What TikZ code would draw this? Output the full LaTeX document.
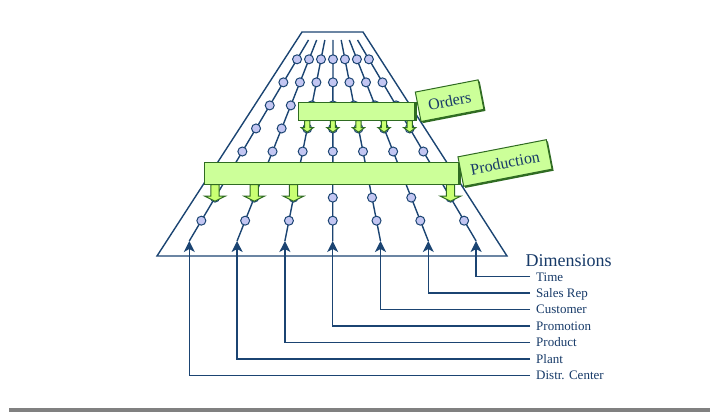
\documentclass[tikz,border=0pt]{standalone}
\usepackage{fontspec}
\setmainfont{Liberation Serif}
\usetikzlibrary{arrows.meta,calc,shadows}

\definecolor{navy}{HTML}{1B4472}
\definecolor{txtblue}{HTML}{173A68}
\definecolor{barfill}{HTML}{CCFF99}
\definecolor{bardraw}{HTML}{2F6B22}
\definecolor{dotfill}{HTML}{C3C6F2}
\definecolor{rulegray}{HTML}{808080}

\begin{document}
\begin{tikzpicture}[x=1pt,y=-1pt,
  dimline/.style={draw=navy,line width=1.4pt},
  dot/.style={circle,draw=navy,fill=dotfill,line width=1pt,minimum size=9pt,inner sep=0pt},
  fact/.style={draw=bardraw,fill=barfill,line width=1.2pt,inner sep=0pt,anchor=north west},
  tag/.style={draw=bardraw,fill=barfill,line width=1pt,rotate=11,inner sep=0pt,
    font=\fontsize{16}{16}\selectfont,text=txtblue,
    drop shadow={shadow xshift=1.6pt,shadow yshift=-1.6pt,fill=bardraw,opacity=1}},
  dimlabel/.style={anchor=west,inner xsep=6pt,inner ysep=0pt,text height=8.6pt,text depth=0pt,
    font=\fontsize{13}{13}\selectfont,text=txtblue},
  feed/.style={draw=bardraw,fill=barfill!75!lime,line width=1pt,line join=miter}
]
\useasboundingbox (0,0) rectangle (710,412);

% outline of the dimensional cone
\draw[navy,line width=1.4pt] (302,32) -- (363,32) -- (507,256) -- (157,256) -- cycle;

% the seven dimension lines with their member dots
\foreach \i in {0,...,6} {
  \coordinate (t\i) at (308.5+8.17*\i,40);
  \coordinate (b\i) at (189.3+47.8*\i,241);
  \draw[dimline] (t\i) -- (b\i);
  \foreach \k in {0,...,7} {
    \pgfmathsetmacro\p{0.096+0.1147*\k}
    \node[dot] (d\i-\k) at ($(t\i)!\p!(b\i)$) {};
  }
}

% fact bars
\node[fact,minimum width=118pt,minimum height=18pt] (ordersbar) at (298,102) {};
\node[fact,minimum width=256pt,minimum height=22pt] (prodbar) at (204,162) {};

% feed arrows from the fact bars onto the dimensions
\foreach \i in {2,...,6}
  \draw[feed] (d\i-3 |- ordersbar.south) ++(-2.6,-0.5) -- ++(0,7) -- ++(-3.4,0)
    -- ++(6,4.5) -- ++(6,-4.5) -- ++(-3.4,0) -- ++(0,-7) -- cycle;
\foreach \i in {0,1,2,6}
  \draw[feed] (d\i-6 |- prodbar.south) ++(-4.2,-0.5) -- ++(0,11.5) -- ++(-6,0)
    -- ++(10.2,5) -- ++(10.2,-5) -- ++(-6,0) -- ++(0,-11.5) -- cycle;

% redraw bars over the arrow tops, with a dark end face
\node[fact,minimum width=118pt,minimum height=18pt] at (298,102) {};
\node[fact,minimum width=256pt,minimum height=22pt] at (204,162) {};
\fill[bardraw] ([xshift=-3pt]ordersbar.north east) rectangle (ordersbar.south east);
\fill[bardraw] ([xshift=-3pt]prodbar.north east) rectangle (prodbar.south east);

% fact names
\node[tag,minimum width=64pt,minimum height=30pt] (orderstag) at (449.6,100.7) {Orders};
\node[tag,minimum width=90pt,minimum height=30pt] (prodtag) at (505,163) {Production};

% dimension legend
\node[anchor=west,inner sep=0pt,font=\fontsize{18}{18}\selectfont,text=txtblue] (dimtitle) at (525.5,261) {Dimensions};
\foreach \txt/\i [count=\j from 0] in {Time/6,Sales Rep/5,Customer/4,Promotion/3,Product/2,Plant/1,Distr. Center/0} {
  \node[dimlabel] (lbl\i) at (530,276.7+16.45*\j) {\txt};
  \draw[dimline,-{Stealth[length=11pt,width=11pt,inset=3pt]}] (lbl\i.west) -| (b\i);
}

% footer rule
\fill[rulegray] (9,407.5) rectangle (710,412);
\end{tikzpicture}
\end{document}
